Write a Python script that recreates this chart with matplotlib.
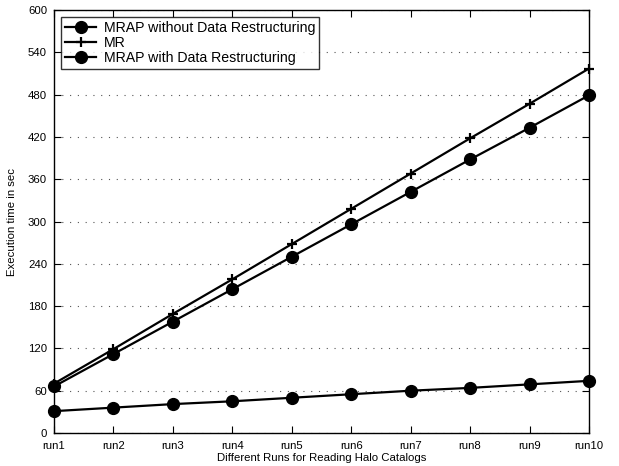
import matplotlib

matplotlib.use("Agg")
import matplotlib.pyplot as plt
import numpy as np

plt.rcParams["font.family"] = ["Liberation Sans", "DejaVu Sans"]

runs = ["run1", "run2", "run3", "run4", "run5", "run6", "run7", "run8", "run9", "run10"]
mrap_without = [66, 112, 158, 204, 250, 296, 342, 388, 433, 479]
mr = [70, 119, 169, 218, 268, 318, 368, 418, 467, 517]
mrap_with = [31, 36, 41, 45, 50, 55, 60, 64, 69, 74]
yticks = [0, 60, 120, 180, 240, 300, 360, 420, 480, 540, 600]

fig = plt.figure(figsize=(6.19, 4.66), dpi=100)
ax = fig.add_axes([0.0872, 0.0708, 0.8643, 0.9077])

x = np.arange(len(runs))
ax.plot(x, mrap_without, color="black", lw=1.6, marker="o", ms=8.5,
        clip_on=False, label="MRAP without Data Restructuring")
ax.plot(x, mr, color="black", lw=1.6, marker="+", ms=7, mew=1.6,
        clip_on=False, label="MR")
ax.plot(x, mrap_with, color="black", lw=1.6, marker="o", ms=8.5,
        clip_on=False, label="MRAP with Data Restructuring")

ax.set_xlim(0, len(runs) - 1)
ax.set_ylim(0, 600)
ax.set_xticks(x)
ax.set_xticklabels(runs)
ax.set_yticks(yticks)
ax.tick_params(direction="in", top=True, right=True, labelsize=8.2, length=5, width=0.8)
ax.tick_params(axis="x", pad=6)
ax.tick_params(axis="y", pad=5)
ax.yaxis.grid(True, linestyle=(0, (1, 6)), color="#555555", lw=0.8)
for s in ax.spines.values():
    s.set_linewidth(1.0)

ax.set_xlabel("Different Runs for Reading Halo Catalogs", fontsize=8.2, labelpad=1)
ax.set_ylabel("Execution time in sec", fontsize=8.2, labelpad=8)

leg = ax.legend(loc="upper left", fontsize=10.2, frameon=True, fancybox=False,
                edgecolor="black", borderpad=0.3, labelspacing=0.05,
                handlelength=2.2, handletextpad=0.5, borderaxespad=0.5)
leg.get_frame().set_linewidth(1.0)

fig.savefig("out.png", dpi=100)
